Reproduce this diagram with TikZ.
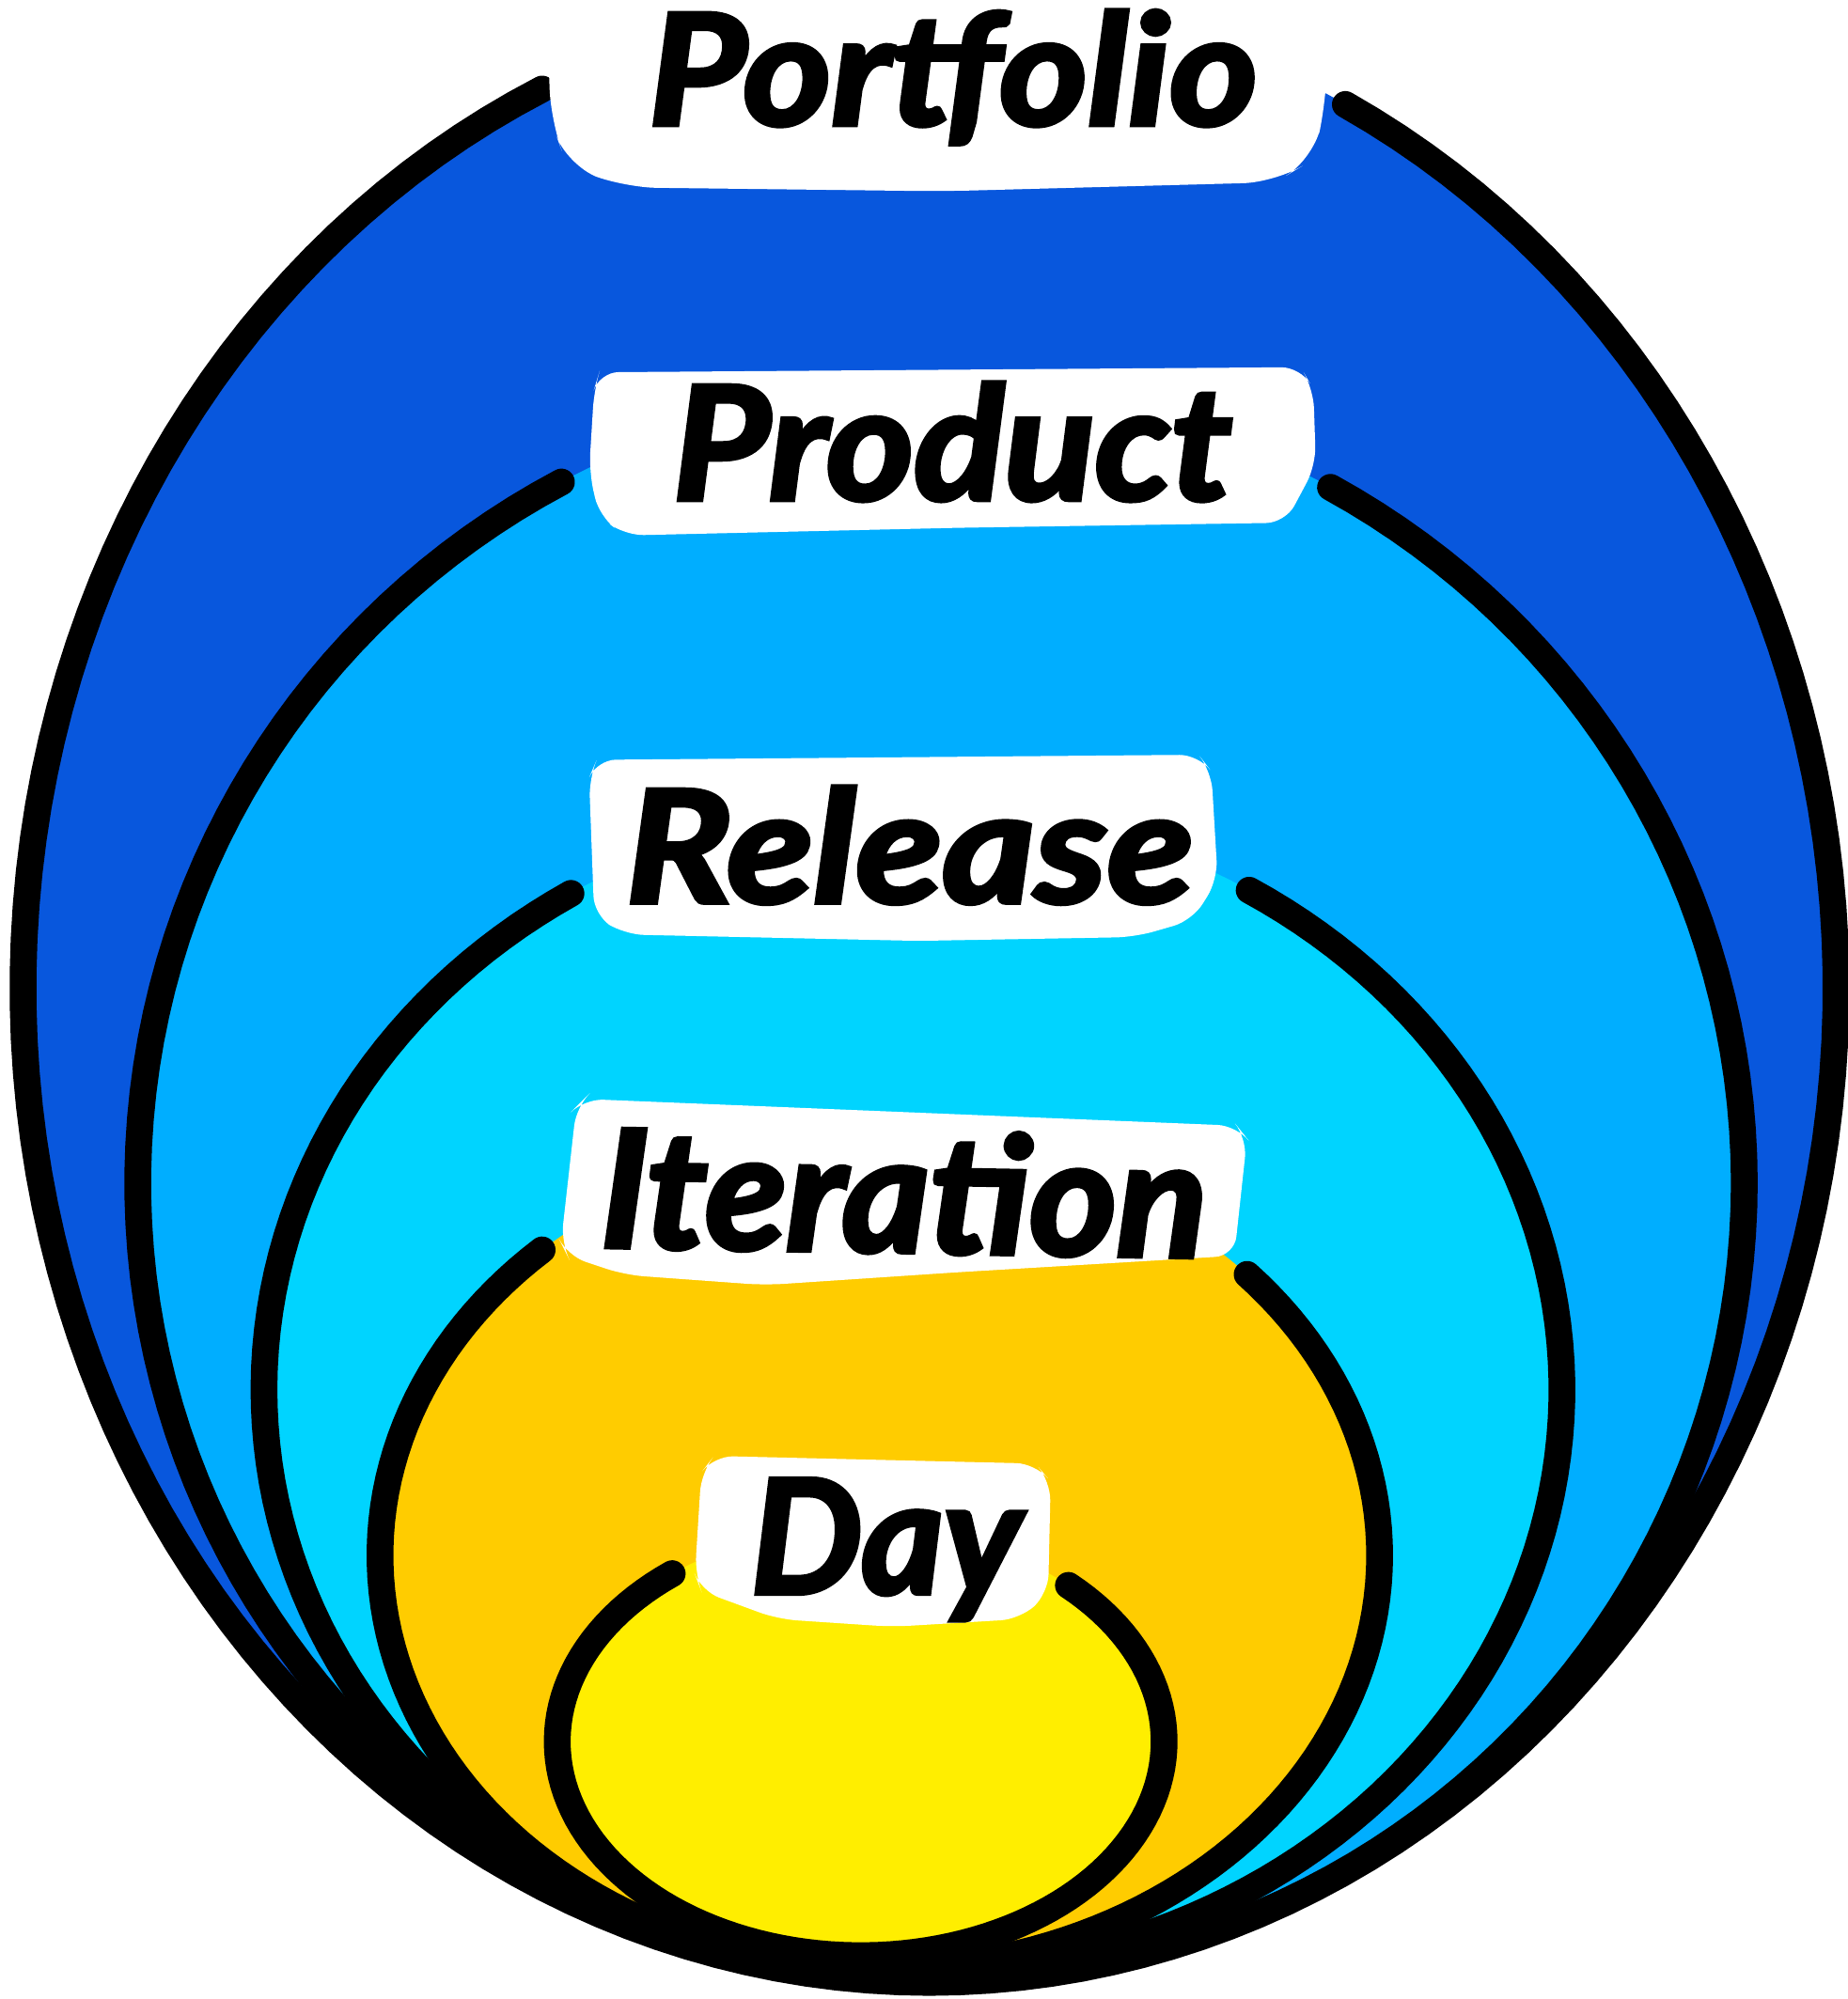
\documentclass[tikz,border=0pt]{standalone}
\usepackage{graphicx}
\usepackage{fontspec}
\setmainfont{Lato}
\newfontfamily\labfont[BoldItalicFeatures={FakeBold=3}]{Lato}
\definecolor{pdark}{HTML}{0857DD}
\definecolor{pmed}{HTML}{00AEFF}
\definecolor{pcyan}{HTML}{00D4FF}
\definecolor{porange}{HTML}{FFCC00}
\definecolor{pyellow}{HTML}{FFEE00}
\begin{document}
\begin{tikzpicture}[x=0.01cm,y=-0.01cm,
  outl/.style={draw=black,line width=0.21cm,line cap=round,line join=round},
  labbg/.style={fill=white,draw=none},
  labtxt/.style={anchor=base west,inner sep=0pt,text=black}]
\useasboundingbox[fill=white] (0,0) rectangle (1449,1568);
% fills (nested egg shapes)
\fill[pdark]   (729,775)  ellipse [x radius=711, y radius=780];
\fill[pmed]    (738,928)  ellipse [x radius=630, y radius=624];
\fill[pcyan]   (716,1090) ellipse [x radius=509, y radius=458];
\fill[porange] (690,1220) ellipse [x radius=392, y radius=325];
\fill[pyellow] (675,1366) ellipse [x radius=238, y radius=168];
% outlines, open at the top where the labels sit
\draw[outl] plot[domain=-154.7:152.7, samples=160, variable=\t] ({729+711*sin(\t)},{775+780*cos(\t)});
\draw[outl] plot[domain=-151.8:151.0, samples=160, variable=\t] ({738+630*sin(\t)},{928+624*cos(\t)});
\draw[outl] plot[domain=-148.2:148.8, samples=160, variable=\t] ({716+509*sin(\t)},{1090+458*cos(\t)});
\draw[outl] plot[domain=-137.5:132.7, samples=140, variable=\t] ({690+392*sin(\t)},{1220+325*cos(\t)});
\draw[outl] plot[domain=-141.6:136.8, samples=120, variable=\t] ({675+238*sin(\t)},{1366+168*cos(\t)});
% label backgrounds
\path[labbg,rounded corners=0.25cm] (428,-10) -- (432,95) -- (445,130) -- (490,147) -- (740,150) -- (1000,143) -- (1030,125) -- (1040,80) -- (1042,-10) -- cycle;
\path[labbg,rounded corners=0.15cm] (470,292) -- (1020,288) -- (1030,305) -- (1032,365) -- (1008,410) -- (750,414) -- (490,420) -- (470,405) -- (462,370) -- (466,305) -- cycle;
\path[labbg,rounded corners=0.15cm] (468,596) -- (940,592) -- (950,605) -- (955,690) -- (935,722) -- (890,735) -- (720,738) -- (490,733) -- (466,718) -- (462,610) -- cycle;
\path[labbg,rounded corners=0.15cm] (458,862) -- (970,883) -- (978,893) -- (968,985) -- (750,998) -- (600,1008) -- (490,1000) -- (445,985) -- (440,975) -- (452,868) -- cycle;
\path[labbg,rounded corners=0.15cm] (560,1142) -- (812,1148) -- (824,1162) -- (822,1250) -- (800,1270) -- (700,1276) -- (610,1270) -- (550,1248) -- (545,1235) -- (550,1155) -- cycle;
% texts
\node[labtxt] (tport) at (508,98) {\resizebox{4.77cm}{0.90cm}{\labfont\bfseries\itshape Portfolio}};
\node[labtxt] (tprod) at (527,392) {\resizebox{4.38cm}{0.92cm}{\labfont\bfseries\itshape Product}};
\node[labtxt] (trel) at (490,708) {\resizebox{4.45cm}{0.91cm}{\labfont\bfseries\itshape Release}};
\node[labtxt,rotate=-1] (titer) at (470,978) {\resizebox{4.75cm}{0.95cm}{\labfont\bfseries\itshape Iteration}};
\node[labtxt] (tday) at (588,1250) {\resizebox{2.12cm}{0.90cm}{\labfont\bfseries\itshape Day}};
\end{tikzpicture}
\end{document}
